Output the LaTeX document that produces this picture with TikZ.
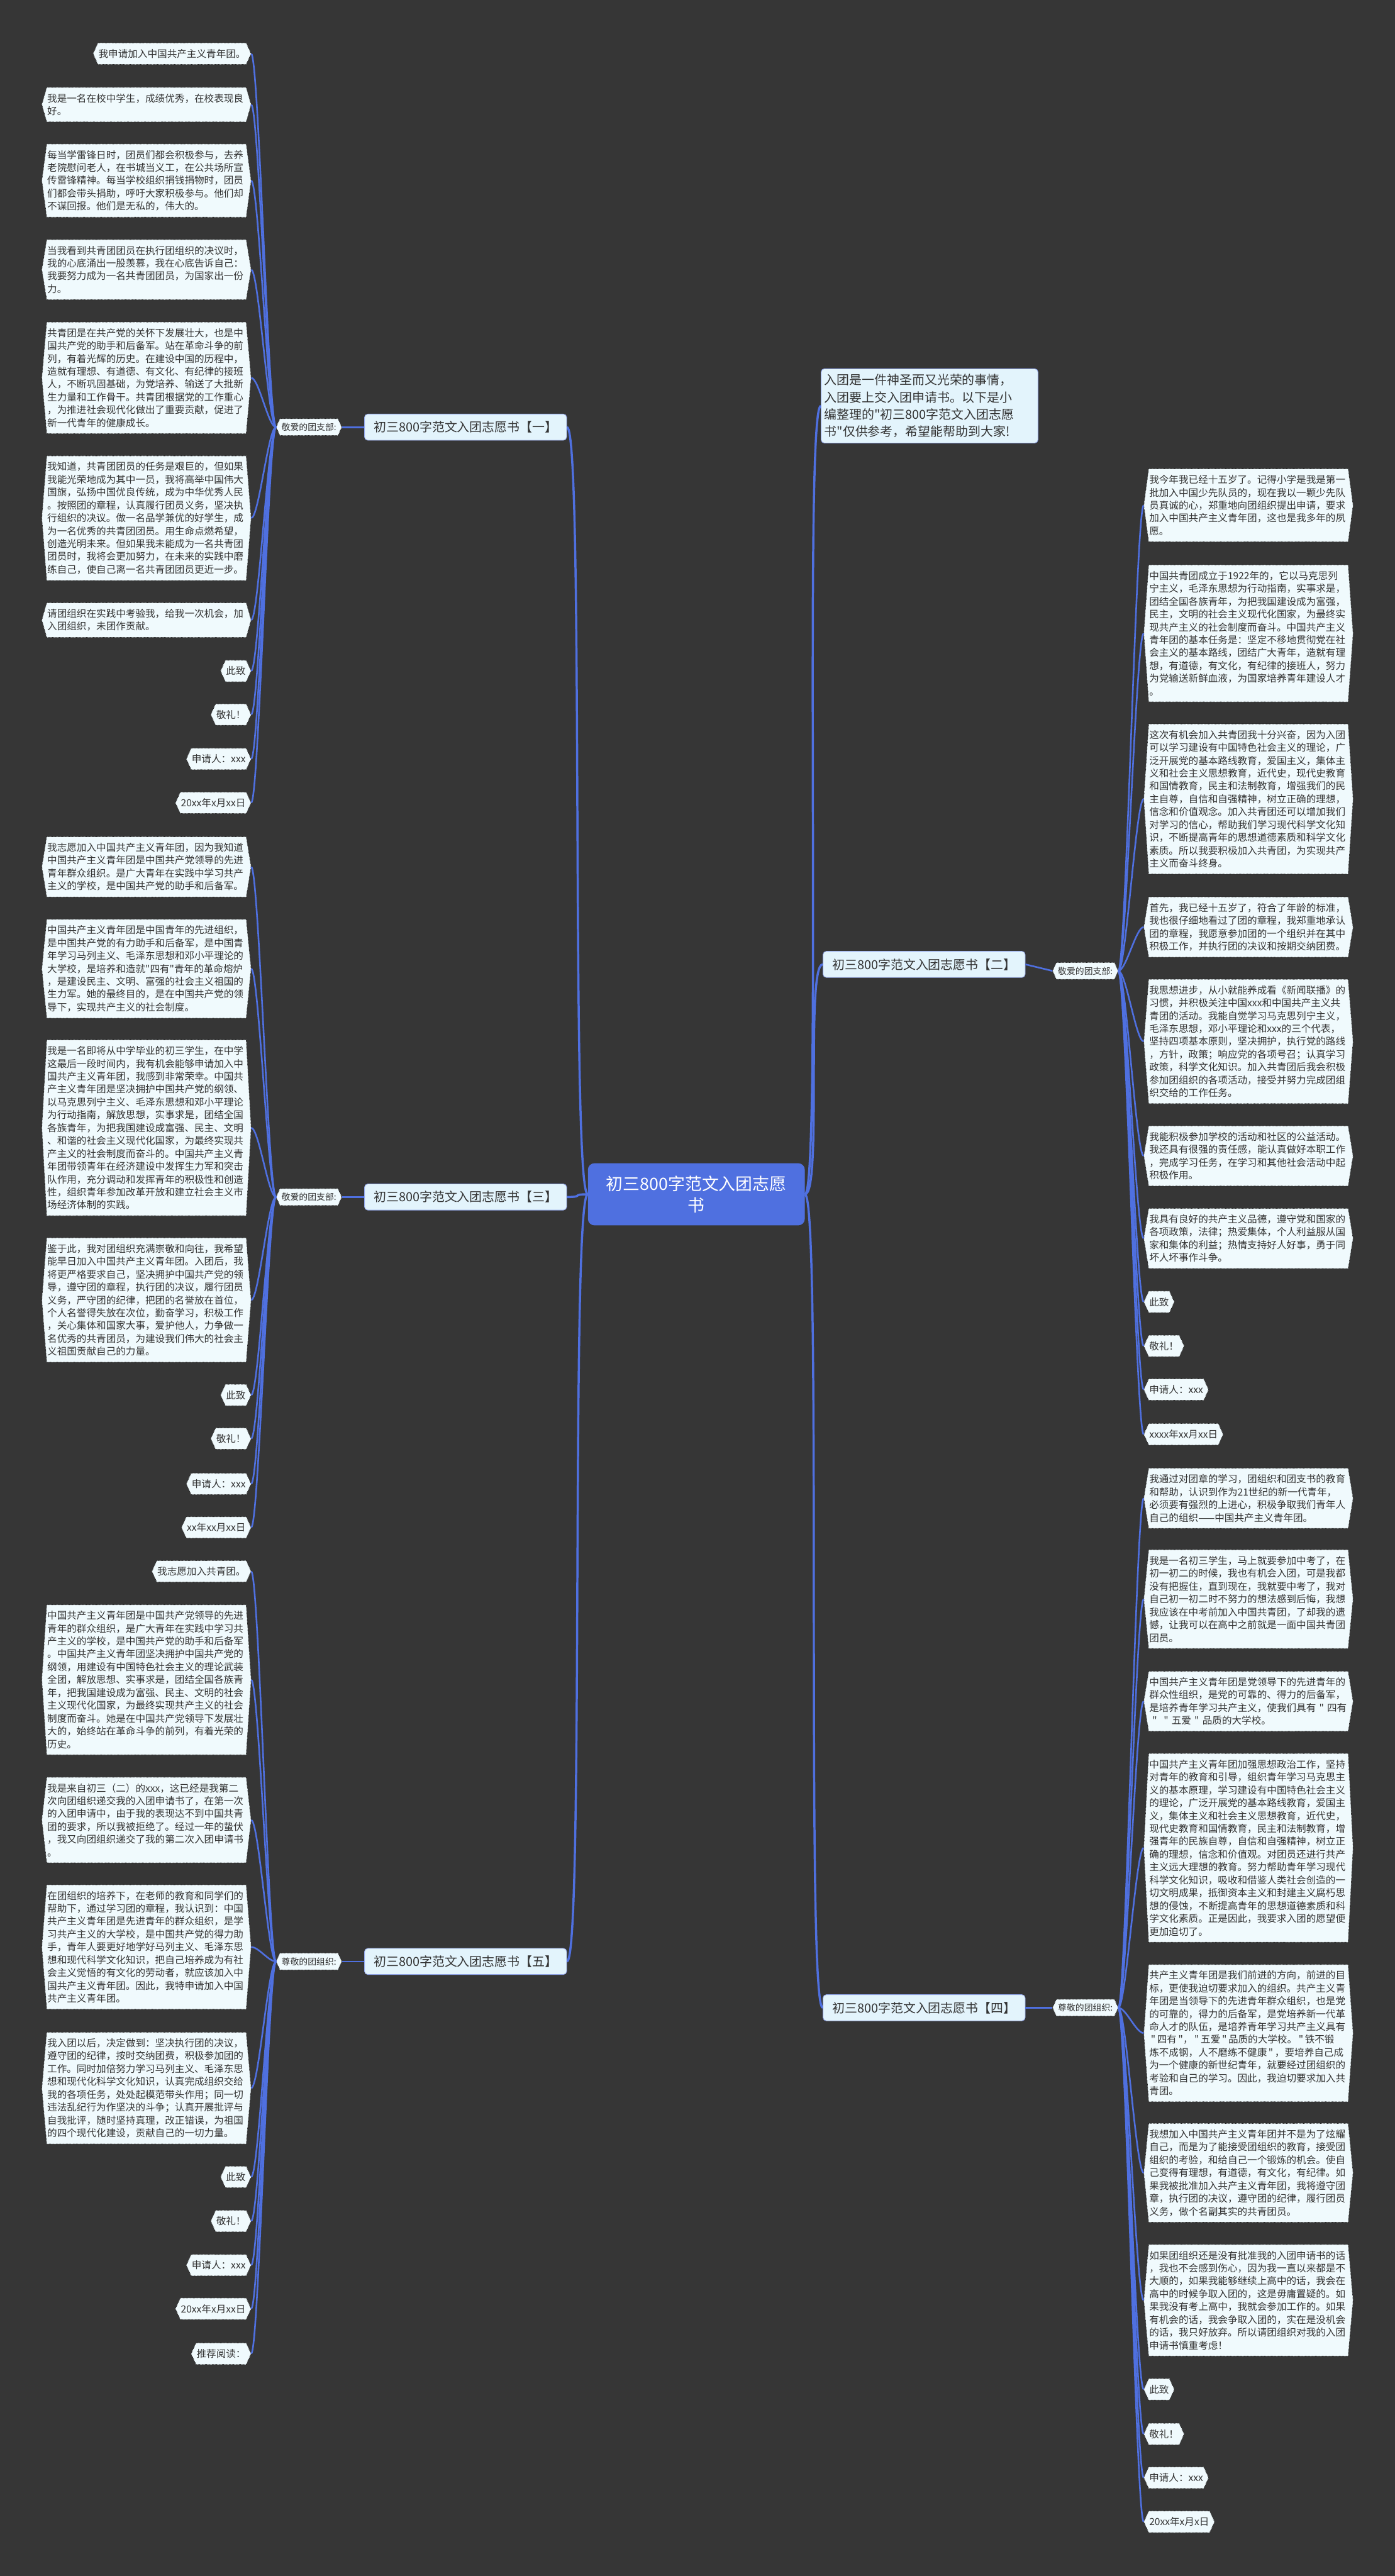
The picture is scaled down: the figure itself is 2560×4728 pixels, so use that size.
\documentclass[tikz,border=0pt]{standalone}
\usepackage{fontspec}
\newfontfamily\cjk{Noto Sans CJK SC}
\usetikzlibrary{backgrounds}
\pgfdeclarelayer{bg}
\pgfsetlayers{bg,background,main}
\definecolor{bgc}{HTML}{363636}
\definecolor{blu}{HTML}{4F70E0}
\definecolor{leaffill}{HTML}{F0FAFD}
\definecolor{lvfill}{HTML}{E3F4FC}
\definecolor{txt}{HTML}{333333}
\tikzset{
 leaf/.style={font=\cjk\fontsize{18}{23.6}\selectfont, text=txt, inner xsep=1pt, inner ysep=11.3pt, align=left},
 para/.style={leaf, text width=364pt},
 lab/.style={font=\cjk\fontsize{16}{20}\selectfont, text=txt, inner xsep=3pt, inner ysep=8pt},
 hexfill/.style={fill=leaffill, draw=black!85, line width=1.2pt, dash pattern=on 1.3pt off 1.3pt},
 link/.style={draw=blu, line width=3pt},
 mainlink/.style={draw=blu, line width=4pt},
 lvone/.style={font=\cjk\fontsize{23}{28}\selectfont, text=txt, fill=lvfill, draw=blu!60, line width=1pt, rounded corners=6pt, minimum width=371pt, minimum height=48pt, inner sep=4pt},
 ctrbox/.style={font=\cjk\fontsize{31}{40}\selectfont, text=white, fill=blu, rounded corners=12pt, minimum width=398pt, minimum height=114pt, align=center},
 introbox/.style={font=\cjk\fontsize{23}{31.5}\selectfont, text=txt, fill=lvfill, draw=blu!60, line width=1pt, rounded corners=6pt, text width=386pt, align=left, inner xsep=6pt, inner ysep=10pt},
}
\newcommand\hexify[2][9]{%
 \begin{scope}[on background layer]
 \path[hexfill] (#2.north west) -- (#2.north east) -- ([xshift=#1pt]#2.east) -- (#2.south east) -- (#2.south west) -- ([xshift=-#1pt]#2.west) -- cycle;
 \end{scope}}
\newcommand\Lleaf[4][para]{\node[#1,anchor=east] (#2) at (452,#3) {#4}; \hexify{#2}}
\newcommand\Rleaf[4][para]{\node[#1,anchor=west] (#2) at (2108,#3) {#4}; \hexify{#2}}
\begin{document}
\begin{tikzpicture}[x=1pt,y=-1pt]
\begin{pgfonlayer}{bg}
\fill[bgc] (0,0) rectangle (2560,4728);
\end{pgfonlayer}
\useasboundingbox (0,0) rectangle (2560,4728);

% ---------- center and level one ----------
\node[ctrbox] (ctr) at (1278,2192) {初三800字范文入团志愿\\书};
\node[introbox] (intro) at (1706,745) {入团是一件神圣而又光荣的事情，\\入团要上交入团申请书。以下是小\\编整理的"初三800字范文入团志愿\\书"仅供参考，希望能帮助到大家!};
\node[lvone] (n1) at (854.5,784) {初三800字范文入团志愿书【一】};
\node[lvone] (n3) at (854.5,2197) {初三800字范文入团志愿书【三】};
\node[lvone] (n5) at (854.5,3600) {初三800字范文入团志愿书【五】};
\node[lvone] (n2) at (1696,1770) {初三800字范文入团志愿书【二】};
\node[lvone] (n4) at (1696,3685) {初三800字范文入团志愿书【四】};

% ---------- level two labels ----------
\node[lab] (lab1) at (567,784) {敬爱的团支部:}; \hexify[7]{lab1}
\node[lab] (lab3) at (567,2197) {敬爱的团支部:}; \hexify[7]{lab3}
\node[lab] (lab5) at (567,3600) {尊敬的团组织:}; \hexify[7]{lab5}
\node[lab] (lab2) at (1992,1782) {敬爱的团支部:}; \hexify[7]{lab2}
\node[lab] (lab4) at (1992,3685) {尊敬的团组织:}; \hexify[7]{lab4}

% ---------- group one ----------
\Lleaf[leaf]{g1a}{98.5}{我申请加入中国共产主义青年团。}
\Lleaf{g1b}{192}{我是一名在校中学生，成绩优秀，在校表现良\\好。}
\Lleaf{g1c}{331.5}{每当学雷锋日时，团员们都会积极参与，去养\\老院慰问老人，在书城当义工，在公共场所宣\\传雷锋精神。每当学校组织捐钱捐物时，团员\\们都会带头捐助，呼吁大家积极参与。他们却\\不谋回报。他们是无私的，伟大的。}
\Lleaf{g1d}{495}{当我看到共青团团员在执行团组织的决议时，\\我的心底涌出一股羡慕，我在心底告诉自己：\\我要努力成为一名共青团团员，为国家出一份\\力。}
\Lleaf{g1e}{693.5}{共青团是在共产党的关怀下发展壮大，也是中\\国共产党的助手和后备军。站在革命斗争的前\\列，有着光辉的历史。在建设中国的历程中，\\造就有理想、有道德、有文化、有纪律的接班\\人，不断巩固基础，为党培养、输送了大批新\\生力量和工作骨干。共青团根据党的工作重心\\，为推进社会现代化做出了重要贡献，促进了\\新一代青年的健康成长。}
\Lleaf{g1f}{951}{我知道，共青团团员的任务是艰巨的，但如果\\我能光荣地成为其中一员，我将高举中国伟大\\国旗，弘扬中国优良传统，成为中华优秀人民\\。按照团的章程，认真履行团员义务，坚决执\\行组织的决议。做一名品学兼优的好学生，成\\为一名优秀的共青团团员。用生命点燃希望，\\创造光明未来。但如果我未能成为一名共青团\\团员时，我将会更加努力，在未来的实践中磨\\练自己，使自己离一名共青团团员更近一步。}
\Lleaf{g1g}{1138}{请团组织在实践中考验我，给我一次机会，加\\入团组织，未团作贡献。}
\Lleaf[leaf]{g1h}{1231.5}{此致}
\Lleaf[leaf]{g1i}{1311.5}{敬礼！}
\Lleaf[leaf]{g1j}{1393}{申请人：xxx}
\Lleaf[leaf]{g1k}{1473.5}{20xx年x月xx日}

% ---------- group three ----------
\Lleaf{g3a}{1591}{我志愿加入中国共产主义青年团，因为我知道\\中国共产主义青年团是中国共产党领导的先进\\青年群众组织。是广大青年在实践中学习共产\\主义的学校，是中国共产党的助手和后备军。}
\Lleaf{g3b}{1778}{中国共产主义青年团是中国青年的先进组织，\\是中国共产党的有力助手和后备军，是中国青\\年学习马列主义、毛泽东思想和邓小平理论的\\大学校，是培养和造就"四有"青年的革命熔炉\\，是建设民主、文明、富强的社会主义祖国的\\生力军。她的最终目的，是在中国共产党的领\\导下，实现共产主义的社会制度。}
\Lleaf{g3c}{2070}{我是一名即将从中学毕业的初三学生，在中学\\这最后一段时间内，我有机会能够申请加入中\\国共产主义青年团，我感到非常荣幸。中国共\\产主义青年团是坚决拥护中国共产党的纲领、\\以马克思列宁主义、毛泽东思想和邓小平理论\\为行动指南，解放思想，实事求是，团结全国\\各族青年，为把我国建设成富强、民主、文明\\、和谐的社会主义现代化国家，为最终实现共\\产主义的社会制度而奋斗的。中国共产主义青\\年团带领青年在经济建设中发挥生力军和突击\\队作用，充分调动和发挥青年的积极性和创造\\性，组织青年参加改革开放和建立社会主义市\\场经济体制的实践。}
\Lleaf{g3d}{2386}{鉴于此，我对团组织充满崇敬和向往，我希望\\能早日加入中国共产主义青年团。入团后，我\\将更严格要求自己，坚决拥护中国共产党的领\\导，遵守团的章程，执行团的决议，履行团员\\义务，严守团的纪律，把团的名誉放在首位，\\个人名誉得失放在次位，勤奋学习，积极工作\\，关心集体和国家大事，爱护他人，力争做一\\名优秀的共青团员，为建设我们伟大的社会主\\义祖国贡献自己的力量。}
\Lleaf[leaf]{g3e}{2560.5}{此致}
\Lleaf[leaf]{g3f}{2640.5}{敬礼！}
\Lleaf[leaf]{g3g}{2723.5}{申请人：xxx}
\Lleaf[leaf]{g3h}{2803.5}{xx年xx月xx日}

% ---------- group five ----------
\Lleaf[leaf]{g5a}{2884}{我志愿加入共青团。}
\Lleaf{g5b}{3083}{中国共产主义青年团是中国共产党领导的先进\\青年的群众组织，是广大青年在实践中学习共\\产主义的学校，是中国共产党的助手和后备军\\。中国共产主义青年团坚决拥护中国共产党的\\纲领，用建设有中国特色社会主义的理论武装\\全团，解放思想、实事求是，团结全国各族青\\年，把我国建设成为富强、民主、文明的社会\\主义现代化国家，为最终实现共产主义的社会\\制度而奋斗。她是在中国共产党领导下发展壮\\大的，始终站在革命斗争的前列，有着光荣的\\历史。}
\Lleaf{g5c}{3340.5}{我是来自初三（二）的xxx，这已经是我第二\\次向团组织递交我的入团申请书了，在第一次\\的入团申请中，由于我的表现达不到中国共青\\团的要求，所以我被拒绝了。经过一年的蛰伏\\，我又向团组织递交了我的第二次入团申请书\\。}
\Lleaf{g5d}{3573.5}{在团组织的培养下，在老师的教育和同学们的\\帮助下，通过学习团的章程，我认识到：中国\\共产主义青年团是先进青年的群众组织，是学\\习共产主义的大学校，是中国共产党的得力助\\手，青年人要更好地学好马列主义、毛泽东思\\想和现代科学文化知识，把自己培养成为有社\\会主义觉悟的有文化的劳动者，就应该加入中\\国共产主义青年团。因此，我特申请加入中国\\共产主义青年团。}
\Lleaf{g5e}{3832.5}{我入团以后，决定做到：坚决执行团的决议，\\遵守团的纪律，按时交纳团费，积极参加团的\\工作。同时加倍努力学习马列主义、毛泽东思\\想和现代化科学文化知识，认真完成组织交给\\我的各项任务，处处起模范带头作用；同一切\\违法乱纪行为作坚决的斗争；认真开展批评与\\自我批评，随时坚持真理，改正错误，为祖国\\的四个现代化建设，贡献自己的一切力量。}
\Lleaf[leaf]{g5f}{3995.5}{此致}
\Lleaf[leaf]{g5g}{4076.5}{敬礼！}
\Lleaf[leaf]{g5h}{4157.5}{申请人：xxx}
\Lleaf[leaf]{g5i}{4237.5}{20xx年x月xx日}
\Lleaf[leaf]{g5j}{4320}{推荐阅读：}

% ---------- group two ----------
\Rleaf{r2a}{927.5}{我今年我已经十五岁了。记得小学是我是第一\\批加入中国少先队员的，现在我以一颗少先队\\员真诚的心，郑重地向团组织提出申请，要求\\加入中国共产主义青年团，这也是我多年的夙\\愿。}
\Rleaf{r2b}{1162.5}{中国共青团成立于1922年的，它以马克思列\\宁主义，毛泽东思想为行动指南，实事求是，\\团结全国各族青年，为把我国建设成为富强，\\民主，文明的社会主义现代化国家，为最终实\\现共产主义的社会制度而奋斗。中国共产主义\\青年团的基本任务是：坚定不移地贯彻党在社\\会主义的基本路线，团结广大青年，造就有理\\想，有道德，有文化，有纪律的接班人，努力\\为党输送新鲜血液，为国家培养青年建设人才\\。}
\Rleaf{r2c}{1466.5}{这次有机会加入共青团我十分兴奋，因为入团\\可以学习建设有中国特色社会主义的理论，广\\泛开展党的基本路线教育，爱国主义，集体主\\义和社会主义思想教育，近代史，现代史教育\\和国情教育，民主和法制教育，增强我们的民\\主自尊，自信和自强精神，树立正确的理想，\\信念和价值观念。加入共青团还可以增加我们\\对学习的信心，帮助我们学习现代科学文化知\\识，不断提高青年的思想道德素质和科学文化\\素质。所以我要积极加入共青团，为实现共产\\主义而奋斗终身。}
\Rleaf{r2d}{1701.5}{首先，我已经十五岁了，符合了年龄的标准，\\我也很仔细地看过了团的章程，我郑重地承认\\团的章程，我愿意参加团的一个组织并在其中\\积极工作，并执行团的决议和按期交纳团费。}
\Rleaf{r2e}{1911.5}{我思想进步，从小就能养成看《新闻联播》的\\习惯，并积极关注中国xxx和中国共产主义共\\青团的活动。我能自觉学习马克思列宁主义，\\毛泽东思想，邓小平理论和xxx的三个代表，\\坚持四项基本原则，坚决拥护，执行党的路线\\，方针，政策；响应党的各项号召；认真学习\\政策，科学文化知识。加入共青团后我会积极\\参加团组织的各项活动，接受并努力完成团组\\织交给的工作任务。}
\Rleaf{r2f}{2121.5}{我能积极参加学校的活动和社区的公益活动。\\我还具有很强的责任感，能认真做好本职工作\\，完成学习任务，在学习和其他社会活动中起\\积极作用。}
\Rleaf{r2g}{2273}{我具有良好的共产主义品德，遵守党和国家的\\各项政策，法律；热爱集体，个人利益服从国\\家和集体的利益；热情支持好人好事，勇于同\\坏人坏事作斗争。}
\Rleaf[leaf]{r2h}{2389.5}{此致}
\Rleaf[leaf]{r2i}{2470.5}{敬礼！}
\Rleaf[leaf]{r2j}{2550.5}{申请人：xxx}
\Rleaf[leaf]{r2k}{2632.5}{xxxx年xx月xx日}

% ---------- group four ----------
\Rleaf{r4a}{2750}{我通过对团章的学习，团组织和团支书的教育\\和帮助，认识到作为21世纪的新一代青年，\\必须要有强烈的上进心，积极争取我们青年人\\自己的组织——中国共产主义青年团。}
\Rleaf{r4b}{2935}{我是一名初三学生，马上就要参加中考了，在\\初一初二的时候，我也有机会入团，可是我都\\没有把握住，直到现在，我就要中考了，我对\\自己初一初二时不努力的想法感到后悔，我想\\我应该在中考前加入中国共青团，了却我的遗\\憾，让我可以在高中之前就是一面中国共青团\\团员。}
\Rleaf{r4c}{3122.5}{中国共产主义青年团是党领导下的先进青年的\\群众性组织，是党的可靠的、得力的后备军，\\\mbox{是培养青年学习共产主义，使我们具有 " 四有}\\\mbox{\ "\ \ " 五爱 " 品质的大学校。}}
\Rleaf{r4d}{3391.5}{中国共产主义青年团加强思想政治工作，坚持\\对青年的教育和引导，组织青年学习马克思主\\义的基本原理，学习建设有中国特色社会主义\\的理论，广泛开展党的基本路线教育，爱国主\\义，集体主义和社会主义思想教育，近代史，\\现代史教育和国情教育，民主和法制教育，增\\强青年的民族自尊，自信和自强精神，树立正\\确的理想，信念和价值观。对团员还进行共产\\主义远大理想的教育。努力帮助青年学习现代\\科学文化知识，吸收和借鉴人类社会创造的一\\切文明成果，抵御资本主义和封建主义腐朽思\\想的侵蚀，不断提高青年的思想道德素质和科\\学文化素质。正是因此，我要求入团的愿望便\\更加迫切了。}
\Rleaf{r4e}{3731.5}{共产主义青年团是我们前进的方向，前进的目\\标，更使我迫切要求加入的组织。共产主义青\\年团是当领导下的先进青年群众组织，也是党\\的可靠的，得力的后备军，是党培养新一代革\\命人才的队伍，是培养青年学习共产主义具有\\\mbox{\,"\,四有\,"，\,"\,五爱\,"\,品质的大学校。\,"\,铁不锻}\\\mbox{炼不成钢，人不磨练不健康\,"\,，要培养自己成}\\为一个健康的新世纪青年，就要经过团组织的\\考验和自己的学习。因此，我迫切要求加入共\\青团。}
\Rleaf{r4f}{3988}{我想加入中国共产主义青年团并不是为了炫耀\\自己，而是为了能接受团组织的教育，接受团\\组织的考验，和给自己一个锻炼的机会。使自\\己变得有理想，有道德，有文化，有纪律。如\\果我被批准加入共产主义青年团，我将遵守团\\章，执行团的决议，遵守团的纪律，履行团员\\义务，做个名副其实的共青团员。}
\Rleaf{r4g}{4222}{如果团组织还是没有批准我的入团申请书的话\\，我也不会感到伤心，因为我一直以来都是不\\大顺的，如果我能够继续上高中的话，我会在\\高中的时候争取入团的，这是毋庸置疑的。如\\果我没有考上高中，我就会参加工作的。如果\\有机会的话，我会争取入团的，实在是没机会\\的话，我只好放弃。所以请团组织对我的入团\\申请书慎重考虑！}
\Rleaf[leaf]{r4h}{4385.5}{此致}
\Rleaf[leaf]{r4i}{4467.5}{敬礼！}
\Rleaf[leaf]{r4j}{4547.5}{申请人：xxx}
\Rleaf[leaf]{r4k}{4628.5}{20xx年x月x日}

% ---------- connectors ----------
\begin{scope}[on background layer]
\foreach \t in {n1,n3,n5}
  \draw[mainlink] (ctr.west) .. controls +(-32,0) and +(32,0) .. (\t.east);
\foreach \t in {intro,n2,n4}
  \draw[mainlink] (ctr.east) .. controls +(32,0) and +(-32,0) .. (\t.west);
\end{scope}
\draw[link] (n1.west) -- ([xshift=7pt]lab1.east);
\draw[link] (n3.west) -- ([xshift=7pt]lab3.east);
\draw[link] (n5.west) -- ([xshift=7pt]lab5.east);
\draw[link] (n2.east) -- ([xshift=-7pt]lab2.west);
\draw[link] (n4.east) -- ([xshift=-7pt]lab4.west);
\foreach \t in {g1a,g1b,g1c,g1d,g1e,g1f,g1g,g1h,g1i,g1j,g1k}
  \draw[link] ([xshift=-7pt]lab1.west) .. controls +(-14,0) and +(14,0) .. ([xshift=9pt]\t.east);
\foreach \t in {g3a,g3b,g3c,g3d,g3e,g3f,g3g,g3h}
  \draw[link] ([xshift=-7pt]lab3.west) .. controls +(-14,0) and +(14,0) .. ([xshift=9pt]\t.east);
\foreach \t in {g5a,g5b,g5c,g5d,g5e,g5f,g5g,g5h,g5i,g5j}
  \draw[link] ([xshift=-7pt]lab5.west) .. controls +(-14,0) and +(14,0) .. ([xshift=9pt]\t.east);
\foreach \t in {r2a,r2b,r2c,r2d,r2e,r2f,r2g,r2h,r2i,r2j,r2k}
  \draw[link] ([xshift=7pt]lab2.east) .. controls +(14,0) and +(-14,0) .. ([xshift=-9pt]\t.west);
\foreach \t in {r4a,r4b,r4c,r4d,r4e,r4f,r4g,r4h,r4i,r4j,r4k}
  \draw[link] ([xshift=7pt]lab4.east) .. controls +(14,0) and +(-14,0) .. ([xshift=-9pt]\t.west);
\end{tikzpicture}
\end{document}
